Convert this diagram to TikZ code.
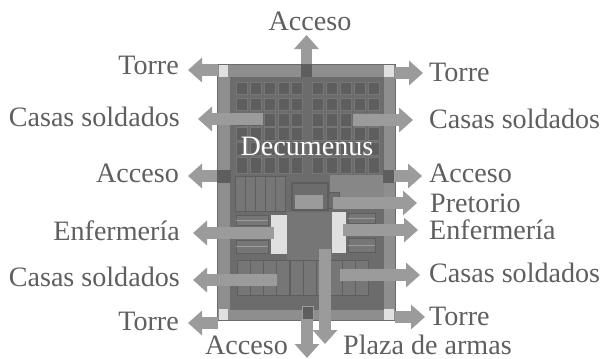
\documentclass[tikz,border=0pt]{standalone}
\usepackage{fontspec}
\setmainfont{Liberation Serif}
\usetikzlibrary{arrows.meta}
\definecolor{wallc}{HTML}{8E8E8E}
\definecolor{darkc}{HTML}{6C6C6C}
\definecolor{cellc}{HTML}{5E5E5E}
\definecolor{arrc}{HTML}{9B9B9B}
\definecolor{lightc}{HTML}{E0E0E0}
\definecolor{gatec}{HTML}{5E5E5E}
\definecolor{txtc}{HTML}{5F5F5F}
\definecolor{stripec}{HTML}{767676}
\tikzset{
  lab/.style={font=\fontsize{28.1}{32}\selectfont, text=txtc, inner sep=0pt},
  arw/.style={draw=arrc, line width=11.5pt, -{Triangle[length=14pt,width=24pt]}},
  cellbox/.style={draw=stripec, fill=cellc, line width=.8pt},
  stripe/.style={draw=cellc, fill=stripec, line width=.9pt},
}
\begin{document}
\begin{tikzpicture}[x=1pt,y=-1pt]
\useasboundingbox (0,0) rectangle (603,359);
\fill[white] (0,0) rectangle (603,359);
% camp
\fill[wallc] (217,64) rectangle (395,320);
\draw[darkc,line width=.8pt] (217,64) rectangle (395,320);
\fill[darkc] (230,77) rectangle (384,310);
% barracks grid, upper
\foreach \yt/\yb in {82/94,98/110,113/126,127/140,142/155,157/173}{
  \foreach \xl in {236,250,264,278,291}{
    \draw[cellbox] (\xl,\yt) rectangle (\xl+11.5,\yb);}
  \foreach \xl in {312,326,340,354,368}{
    \draw[cellbox] (\xl,\yt) rectangle (\xl+11.5,\yb);}
}
% striped block left
\foreach \xl in {235,245,255,265,275}{
  \draw[stripe] (\xl,176) rectangle (\xl+10,211);}
% lighter block and praetorium
\fill[wallc!80!darkc] (330,175) rectangle (384,197);
\draw[cellc,line width=1.2pt,fill=darkc] (292,183) rectangle (328,210);
\fill[arrc] (295,195) rectangle (323,209);
\draw[cellc,line width=1pt,fill=darkc] (328,192) rectangle (339,208);
% plaza
\fill[stripec] (287,212) rectangle (332,260);
% infirmary stripes
\foreach \xl/\xr/\yt/\yb in {236/268/215/225,236/268/240/253,348/375/213/223,348/375/238/252}{
  \draw[stripe] (\xl,\yt) rectangle (\xr,\yb);
  \draw[arrc,line width=.6pt] (\xl,{(\yt+\yb)/2}) -- (\xr,{(\yt+\yb)/2});}
% barracks, lower
\foreach \xl in {237,250,263,276,290,303,316,329,342,355}{
  \draw[stripe] (\xl,260) rectangle (\xl+13,295);}
% arrows
\coordinate (a1s) at (218,70);   \coordinate (a1e) at (188,70);
\coordinate (a2s) at (263,119);  \coordinate (a2e) at (198,119);
\coordinate (a3s) at (220,176);  \coordinate (a3e) at (188,176);
\coordinate (a4s) at (274,233);  \coordinate (a4e) at (193,233);
\coordinate (a5s) at (277,280);  \coordinate (a5e) at (193,280);
\coordinate (a6s) at (218,323);  \coordinate (a6e) at (188,323);
\coordinate (a7s) at (395,73);   \coordinate (a7e) at (423,73);
\coordinate (a8s) at (353,120);  \coordinate (a8e) at (413,120);
\coordinate (a9s) at (390,176);  \coordinate (a9e) at (422,176);
\coordinate (a10s) at (333,203); \coordinate (a10e) at (417,203);
\coordinate (a11s) at (343,230); \coordinate (a11e) at (418,230);
\coordinate (a12s) at (340,275); \coordinate (a12e) at (420,275);
\coordinate (a13s) at (395,317); \coordinate (a13e) at (425,317);
\coordinate (a14s) at (306.5,66);\coordinate (a14e) at (306.5,35);
\coordinate (a15s) at (307,319); \coordinate (a15e) at (307,358);
\coordinate (a16s) at (325,249); \coordinate (a16e) at (325,344);
% infirmaries sit under the arrows that start on them
\fill[lightc] (271,215) rectangle (287,254);
\fill[lightc] (332,212) rectangle (346,253);
\foreach \n in {1,...,16}{\draw[arw] (a\n s) -- (a\n e);}
% towers and gates
\fill[lightc] (219,65) rectangle (228,77);
\fill[lightc] (384,65) rectangle (394,77);
\fill[lightc] (219,309) rectangle (228,320);
\fill[lightc] (384,309) rectangle (394,320);
\fill[gatec] (301,64) rectangle (312,77);
\fill[gatec] (217,170) rectangle (231,183);
\fill[gatec] (383,170) rectangle (394,183);
\draw[arrc,fill=gatec,line width=.8pt] (302,306) rectangle (313,319);
% labels
\node[lab,anchor=base] (n1) at (310,30) {Acceso};
\node[lab,anchor=base east] (n2) at (179,74) {Torre};
\node[lab,anchor=base east] (n3) at (180,126) {Casas soldados};
\node[lab,anchor=base east] (n4) at (179,182) {Acceso};
\node[lab,anchor=base east] (n5) at (180,240) {Enfermería};
\node[lab,anchor=base east] (n6) at (180,286) {Casas soldados};
\node[lab,anchor=base east] (n7) at (179,330) {Torre};
\node[lab,anchor=base west] (n8) at (205,354) {Acceso};
\node[lab,anchor=base west] (n9) at (343,354) {Plaza de armas};
\node[lab,anchor=base west] (n10) at (429,81) {Torre};
\node[lab,anchor=base west] (n11) at (429,128) {Casas soldados};
\node[lab,anchor=base west] (n12) at (429,182) {Acceso};
\node[lab,anchor=base west] (n13) at (430,212) {Pretorio};
\node[lab,anchor=base west] (n14) at (429,239) {Enfermería};
\node[lab,anchor=base west] (n15) at (429,282) {Casas soldados};
\node[lab,anchor=base west] (n16) at (429,325) {Torre};
\node[lab,anchor=base,text=white] (n17) at (307,155) {Decumenus};
\end{tikzpicture}
\end{document}
